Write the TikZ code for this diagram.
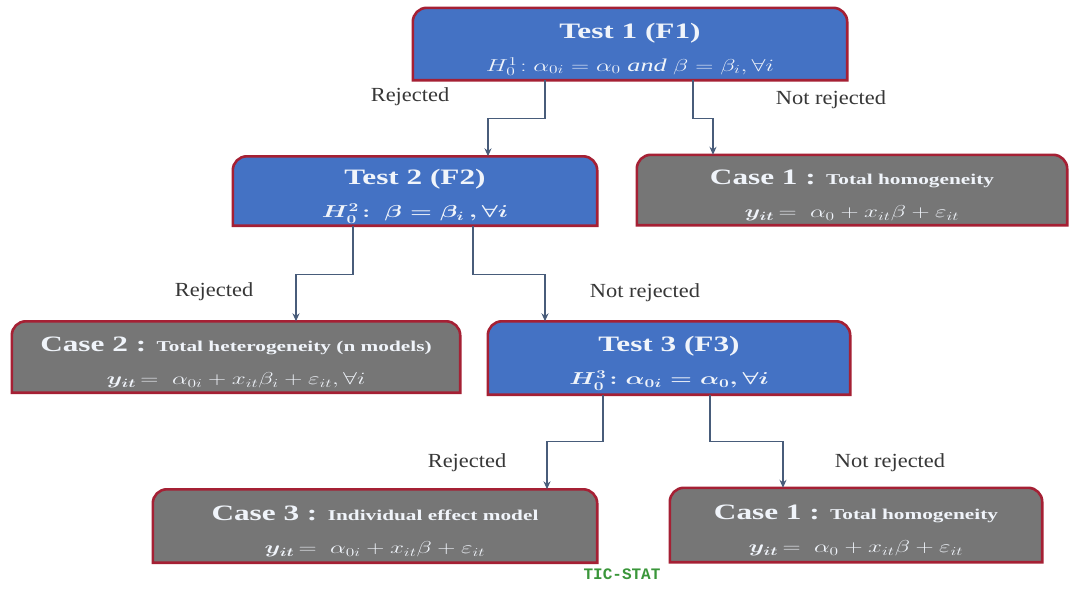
\documentclass[tikz,border=0pt]{standalone}
\usepackage{fontspec}
\setmainfont{Liberation Serif}
\newfontfamily\ticfont{Liberation Mono}
\usepackage{graphicx}
\usetikzlibrary{arrows.meta,backgrounds}

\definecolor{boxblue}{RGB}{68,114,196}
\definecolor{boxgrey}{RGB}{118,118,118}
\definecolor{boxborder}{RGB}{165,32,52}
\definecolor{arrowcol}{RGB}{72,92,122}
\definecolor{boxtext}{RGB}{240,244,250}
\definecolor{labeltext}{RGB}{55,55,55}
\definecolor{ticgreen}{RGB}{58,150,58}

\newcommand{\sx}[1]{\scalebox{1.42}[1]{#1}}
\newcommand{\ttl}[1]{\rule{0pt}{26pt}\sx{\fontsize{22}{26}\selectfont\bfseries #1}}
\newcommand{\csttl}[2]{\rule{0pt}{26pt}\sx{\fontsize{22}{26}\selectfont\bfseries #1 {\fontsize{15}{18}\selectfont #2}}}
\newcommand{\fml}[1]{\scalebox{1.45}[1]{\fontsize{18}{21}\selectfont #1}}
\newcommand{\lbl}[1]{\scalebox{1.12}[1]{\fontsize{20}{24}\selectfont #1}}

\tikzset{
  box/.style={minimum width=#1, inner sep=0pt, minimum height=71pt, text=boxtext, align=center, font=\fontsize{15}{29}\selectfont},
  arr/.style={draw=arrowcol, line width=1.3pt, -{Stealth[length=8pt,width=7pt]}},
  lab/.style={text=labeltext, inner sep=0pt},
  frame/.style={draw=boxborder, line width=2.6pt, fill=#1}
}

\begin{document}
\begin{tikzpicture}[x=1pt,y=1pt]
\useasboundingbox (0,0) rectangle (1070,-590);

\node[box=434pt, minimum height=72pt] (t1) at (630,-44)
  {\ttl{Test 1 (F1)}\\[4pt] \fml{$H_0^1\!: \alpha_{0i} = \alpha_0 \ \mathit{and}\ \beta = \beta_i, \forall i$}};
\node[box=364pt, minimum height=69pt] (t2) at (415,-191)
  {\ttl{Test 2 (F2)}\\[4pt] \fml{\boldmath$H_0^2\!:\ \beta = \beta_i\,, \forall i$}};
\node[box=430pt, minimum height=70pt] (c1a) at (852,-190)
  {\csttl{Case 1 :}{Total homogeneity}\\[4pt] \fml{{\boldmath$y_{it}$}$\,=\ \alpha_0 + x_{it}\beta + \varepsilon_{it}$}};
\node[box=448pt, minimum height=71pt] (c2) at (236,-357)
  {\csttl{Case 2 :}{Total heterogeneity (n models)}\\[4pt] \fml{{\boldmath$y_{it}$}$\,=\ \alpha_{0i} + x_{it}\beta_i + \varepsilon_{it}, \forall i$}};
\node[box=362pt, minimum height=73pt] (t3) at (669,-358)
  {\ttl{Test 3 (F3)}\\[4pt] \fml{\boldmath$H_0^3\!: \alpha_{0i} = \alpha_0, \forall i$}};
\node[box=444pt, minimum height=73pt] (c3) at (375,-526)
  {\csttl{Case 3 :}{Individual effect model}\\[4pt] \fml{{\boldmath$y_{it}$}$\,=\ \alpha_{0i} + x_{it}\beta + \varepsilon_{it}$}};
\node[box=372pt, minimum height=74pt] (c1b) at (856,-525)
  {\csttl{Case 1 :}{Total homogeneity}\\[4pt] \fml{{\boldmath$y_{it}$}$\,=\ \alpha_0 + x_{it}\beta + \varepsilon_{it}$}};

\begin{scope}[on background layer]
\fill[white] (0,0) rectangle (1070,-590);
\foreach \n/\c in {t1/boxblue,t2/boxblue,t3/boxblue,c1a/boxgrey,c2/boxgrey,c3/boxgrey,c1b/boxgrey}{
  \draw[frame=\c] (\n.south west) -- ([yshift=-14pt]\n.north west)
    arc[start angle=180,end angle=90,radius=14pt]
    -- ([xshift=-14pt]\n.north east)
    arc[start angle=90,end angle=0,radius=14pt]
    -- (\n.south east) -- cycle;
}
\end{scope}

\draw[arr] ([xshift=-85pt]t1.south) -- ++(0,-38) -| ([xshift=73pt]t2.north);
\draw[arr] ([xshift=63pt]t1.south) -- ++(0,-38) -| ([xshift=-139pt]c1a.north);
\draw[arr] ([xshift=-62pt]t2.south) -- ++(0,-49) -| ([xshift=60pt]c2.north);
\draw[arr] ([xshift=58pt]t2.south) -- ++(0,-49) -| ([xshift=-124pt]t3.north);
\draw[arr] ([xshift=-66pt]t3.south) -- ++(0,-47) -| ([xshift=172pt]c3.north);
\draw[arr] ([xshift=41pt]t3.south) -- ++(0,-47) -| ([xshift=-73pt]c1b.north);

\node[lab] (l1) at (410,-97) {\lbl{Rejected}};
\node[lab] (l2) at (831,-100) {\lbl{Not rejected}};
\node[lab] (l3) at (214,-292) {\lbl{Rejected}};
\node[lab] (l4) at (645,-293) {\lbl{Not rejected}};
\node[lab] (l5) at (467,-463) {\lbl{Rejected}};
\node[lab] (l6) at (890,-463) {\lbl{Not rejected}};

\node[text=ticgreen, inner sep=0pt] (tic) at (622,-574) {\ticfont\fontsize{16}{19}\selectfont\bfseries TIC-STAT};
\end{tikzpicture}
\end{document}
